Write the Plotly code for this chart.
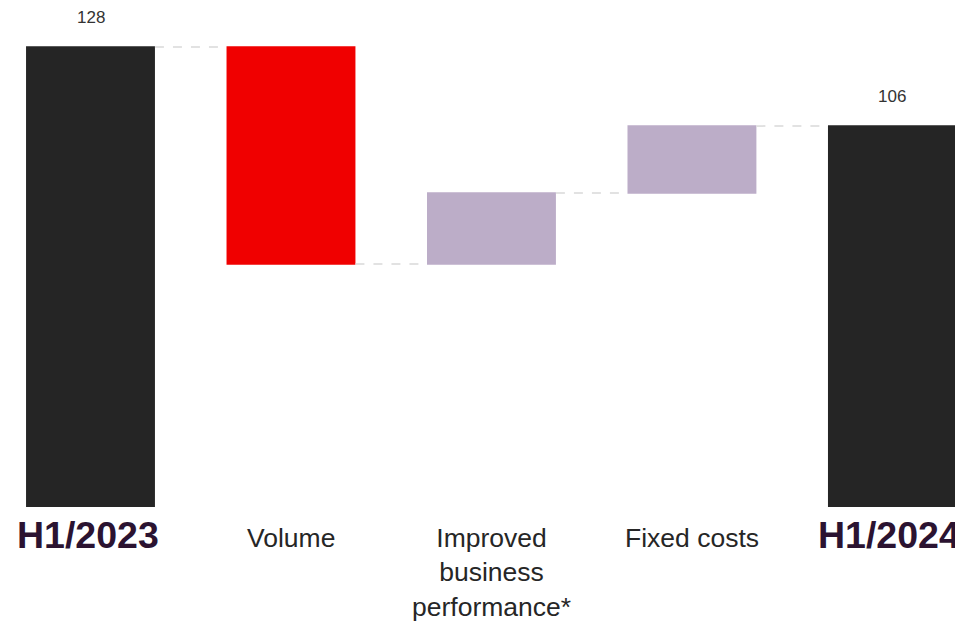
import plotly.graph_objects as go

categories = ["H1/2023", "Volume", "Improved<br>business<br>performance*", "Fixed costs", "H1/2024"]
measures = ["absolute", "relative", "relative", "relative", "total"]
values = [128, -60.4, 19.8, 18.6, 0]
value_labels = ["128", "", "", "", "106"]
label_values = [128, None, None, None, 106]
is_total = [True, False, False, False, True]

FONT = "Liberation Sans, Arial, sans-serif"

fig = go.Figure()
fig.add_trace(go.Waterfall(
    x=categories,
    y=values,
    measure=measures,
    decreasing=dict(marker=dict(color="#F00000")),
    increasing=dict(marker=dict(color="#BCADC8")),
    totals=dict(marker=dict(color="#252525")),
    connector=dict(mode="between", line=dict(color="#D9D9D9", width=1.5, dash="dash")),
    hoverinfo="skip",
))

annotations = []
for cat, lab, v in zip(categories, value_labels, label_values):
    if v is not None:
        annotations.append(dict(x=cat, y=v, xref="x", yref="y", text=lab, showarrow=False,
                                yanchor="bottom", yshift=18,
                                font=dict(family=FONT, size=17, color="#333333")))
for cat, tot in zip(categories, is_total):
    if tot:
        annotations.append(dict(x=cat, y=0, xref="x", yref="paper", text="<b>" + cat + "</b>",
                                showarrow=False, yanchor="top", yshift=-5, xshift=-3,
                                font=dict(family=FONT, size=37.5, color="#2B1331")))
    else:
        annotations.append(dict(x=cat, y=0, xref="x", yref="paper", text=cat,
                                showarrow=False, yanchor="top", yshift=-14,
                                font=dict(family=FONT, size=26.5, color="#262626")))

fig.update_layout(
    width=955, height=613,
    margin=dict(l=0, r=0, t=0, b=114),
    paper_bgcolor="white", plot_bgcolor="white",
    showlegend=False,
    waterfallgap=0.357,
    xaxis=dict(range=[-0.4115, 4.352], showticklabels=False, showgrid=False, zeroline=False, showline=False, ticks=""),
    yaxis=dict(range=[0, 138.85], visible=False, showgrid=False, zeroline=False),
    annotations=annotations,
    font=dict(family=FONT),
)

fig.write_html("out.html")
